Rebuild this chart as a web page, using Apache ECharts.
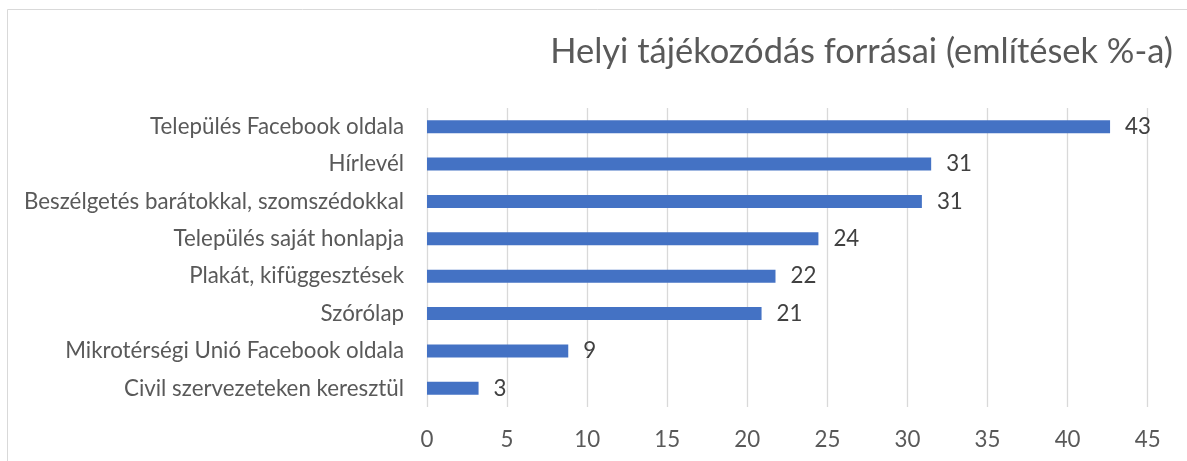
<!DOCTYPE html>
<html>
<head>
<meta charset="utf-8">
<script src="https://cdn.jsdelivr.net/npm/echarts@6/dist/echarts.min.js"></script>
<style>
html,body{margin:0;padding:0;background:#fff;}
#c{width:1187px;height:461px;}
</style>
</head>
<body>
<div id="c"></div>
<script>
const titleText = 'Helyi tájékozódás forrásai (említések %-a)';
const categories = [
  'Település Facebook oldala',
  'Hírlevél',
  'Beszélgetés barátokkal, szomszédokkal',
  'Település saját honlapja',
  'Plakát, kifüggesztések',
  'Szórólap',
  'Mikrotérségi Unió Facebook oldala',
  'Civil szervezeteken keresztül'
];
const values = [42.65, 31.48, 30.9, 24.44, 21.76, 20.89, 8.82, 3.22];
const axisMin = 0, axisMax = 45, axisStep = 5;

const FONT = 'Lato';
function fit(text, target, base) {
  const ctx = document.createElement('canvas').getContext('2d');
  ctx.font = base + 'px ' + FONT;
  return base * target / ctx.measureText(text).width;
}
const labelSize = fit(categories[0], 254, 16);
const titleSize = fit(titleText, 623, 28);

const chart = echarts.init(document.getElementById('c'), null, {renderer: 'canvas'});
chart.setOption({
  backgroundColor: '#fff',
  animation: false,
  textStyle: {fontFamily: FONT},
  graphic: [{
    type: 'rect', silent: true,
    shape: {x: 7.5, y: 9.5, width: 1400, height: 700},
    style: {fill: 'none', stroke: '#d9d9d9', lineWidth: 1}
  }],
  title: {
    text: titleText,
    right: 9,
    top: 49 - titleSize / 2 - 2,
    textStyle: {fontFamily: FONT, fontSize: titleSize, fontWeight: 'normal', color: '#595959'}
  },
  grid: {left: 427, right: 39.3, top: 108, bottom: 54},
  xAxis: {
    type: 'value', min: axisMin, max: axisMax, interval: axisStep,
    axisLine: {show: false}, axisTick: {show: false},
    splitLine: {show: true, lineStyle: {color: '#d9d9d9', width: 1.3}},
    axisLabel: {color: '#595959', fontFamily: FONT, fontSize: labelSize, margin: 22}
  },
  yAxis: {
    type: 'category', data: categories, inverse: true,
    axisLine: {show: false}, axisTick: {show: false},
    axisLabel: {color: '#595959', fontFamily: FONT, fontSize: labelSize, margin: 23}
  },
  series: [{
    type: 'bar', data: values, barWidth: '35%',
    itemStyle: {color: '#4472C4'},
    label: {
      show: true, position: 'right', distance: 15,
      color: '#404040', fontFamily: FONT, fontSize: labelSize,
      formatter: p => Math.round(p.value)
    }
  }]
});
</script>
</body>
</html>
